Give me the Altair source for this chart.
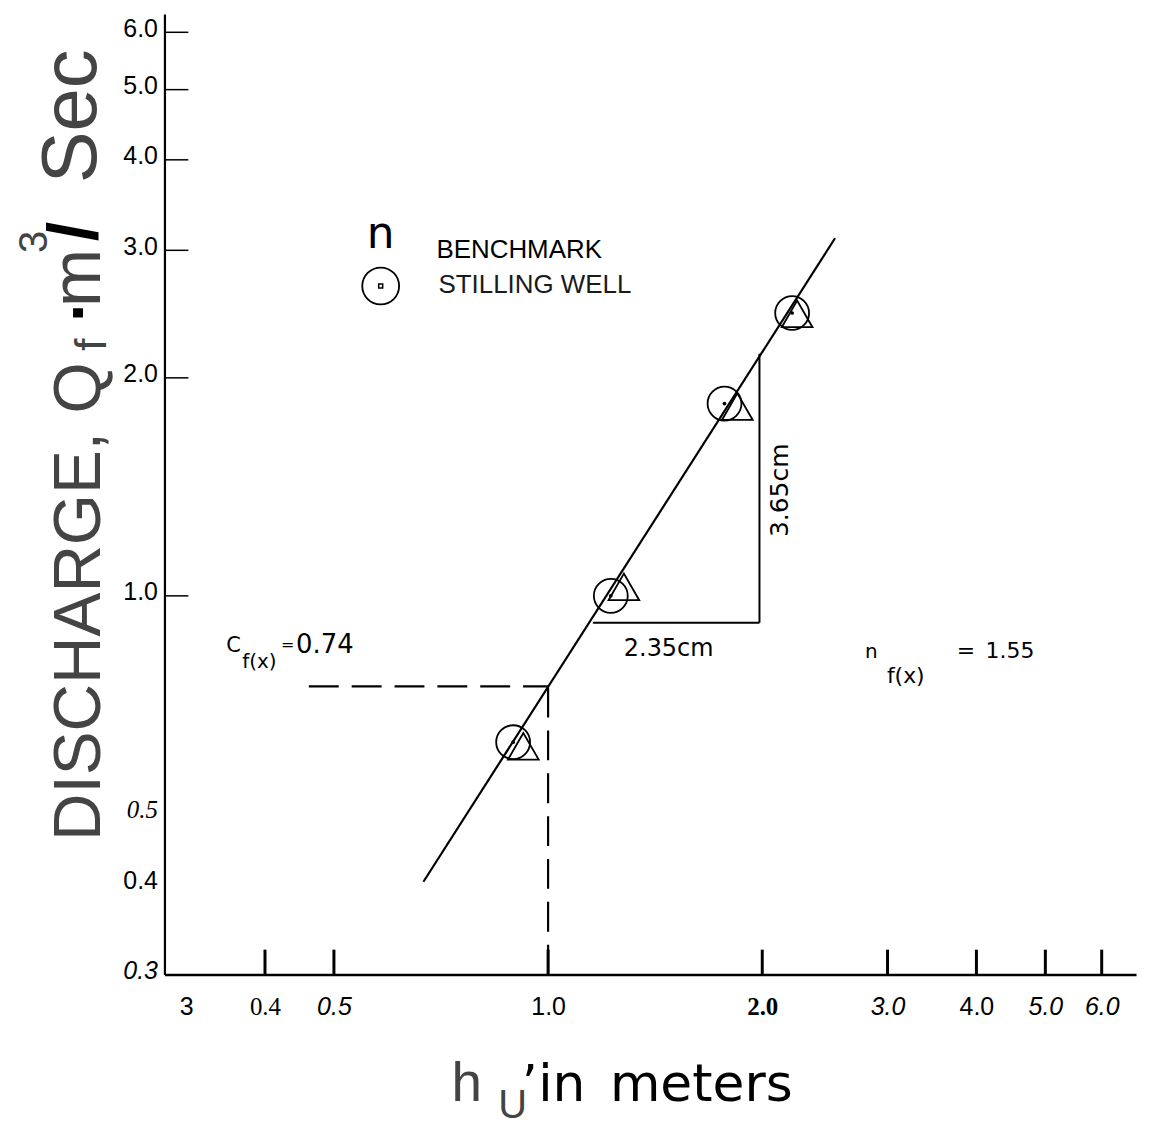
import altair as alt
import pandas as pd

# ---------------- data ----------------
x_tick_values = [0.3, 0.4, 0.5, 1.0, 2.0, 3.0, 4.0, 5.0, 6.0]
x_tick_labels = ["3", "0.4", "0.5", "1.0", "2.0", "3.0", "4.0", "5.0", "6.0"]
x_mark_ticks = [0.4, 0.5, 1.0, 2.0, 3.0, 4.0, 5.0, 6.0]
y_tick_values = [0.3, 0.4, 0.5, 1.0, 2.0, 3.0, 4.0, 5.0, 6.0]
y_tick_labels = ["0.3", "0.4", "0.5", "1.0", "2.0", "3.0", "4.0", "5.0", "6.0"]
y_mark_ticks = [1.0, 2.0, 3.0, 4.0, 5.0, 6.0]

# stilling well (circles with dot)
well_h = [0.893, 1.225, 1.770, 2.203]
well_q = [0.628, 1.000, 1.843, 2.458]
# benchmark (triangles)
bench_h = [0.923, 1.278, 1.845, 2.239]
bench_q = [0.620, 1.029, 1.825, 2.451]

# fitted rating line
fit_h = [0.668, 2.531]
fit_q = [0.403, 3.117]

# dashed construction for C
c_h = [0.461, 1.0]
c_q = [0.75, 0.3]
# slope triangle
tri_h = [1.156, 1.982]
tri_q = [0.918, 2.159]

X_DOMAIN = [0.2889, 6.705]
Y_DOMAIN = [0.3, 6.36]

SANS = "Liberation Sans"
SERIF = "Liberation Serif"
WIDE = "DejaVu Sans"

W, H = 975, 964

xs = alt.Scale(type="log", domain=X_DOMAIN, nice=False)
ys = alt.Scale(type="log", domain=Y_DOMAIN, nice=False)


def label_expr(values, labels):
    parts = []
    for v, l in zip(values, labels):
        parts.append(f"datum.value == {v} ? '{l}' : ")
    return "".join(parts) + "''"


xaxis = alt.Axis(
    values=x_tick_values,
    labelExpr=label_expr(x_tick_values, x_tick_labels),
    title=None, grid=False, ticks=False, tickSize=0,
    domainColor="black", domainWidth=2.5,
    labelFontSize=25, labelColor="black", labelPadding=20,
    labelBaseline="top", labelFlush=False, labelOverlap=False, labelBound=False,
    labelFont={"condition": {"test": "datum.value == 0.4 || datum.value == 2", "value": SERIF}, "value": SANS},
    labelFontStyle={"condition": {"test": "datum.value == 0.5 || datum.value == 3 || datum.value == 5 || datum.value == 6", "value": "italic"}, "value": "normal"},
    labelFontWeight={"condition": {"test": "datum.value == 2", "value": "bold"}, "value": "normal"},
    labelOffset={"condition": {"test": "datum.value == 0.3", "value": 10}, "value": 0},
)
yaxis = alt.Axis(
    values=y_tick_values,
    labelExpr=label_expr(y_tick_values, y_tick_labels),
    title=None, grid=False, ticks=False, tickSize=0,
    domainColor="black", domainWidth=2.2,
    labelFontSize=25, labelColor="black", labelPadding=7,
    labelBaseline="middle", labelFlush=False, labelOverlap=False, labelBound=False,
    labelOffset=-4,
    labelFont={"condition": {"test": "datum.value == 0.5", "value": SERIF}, "value": SANS},
    labelFontStyle={"condition": {"test": "datum.value == 0.5 || datum.value == 0.3", "value": "italic"}, "value": "normal"},
)


def X(f):
    return alt.X(f, type="quantitative", scale=xs, axis=xaxis)


def Y(f):
    return alt.Y(f, type="quantitative", scale=ys, axis=yaxis)


fit_df = pd.DataFrame({"h": fit_h, "q": fit_q})
well_df = pd.DataFrame({"h": well_h, "q": well_q})
bench_df = pd.DataFrame({"h": bench_h, "q": bench_q})
dash_df = pd.DataFrame({
    "h": [c_h[0], c_h[1]], "h2": [c_h[1], c_h[1]],
    "q": [c_q[0], c_q[1]], "q2": [c_q[0], c_q[0]],
})
tri_df = pd.DataFrame({
    "h": [tri_h[0], tri_h[1]], "h2": [tri_h[1], tri_h[1]],
    "q": [tri_q[0], tri_q[0]], "q2": [tri_q[0], tri_q[1]],
})
xt_df = pd.DataFrame({"h": x_mark_ticks})
yt_df = pd.DataFrame({"q": y_mark_ticks})
one = pd.DataFrame({"a": [0]})

fit = alt.Chart(fit_df).mark_line(color="black", strokeWidth=2.2).encode(x=X("h"), y=Y("q"))
dash = alt.Chart(dash_df).mark_rule(color="black", strokeWidth=2.2, strokeDash=[30, 13]).encode(
    x=X("h"), x2="h2", y=Y("q"), y2="q2")
tri = alt.Chart(tri_df).mark_rule(color="black", strokeWidth=2).encode(
    x=X("h"), x2="h2", y=Y("q"), y2="q2")
bench = alt.Chart(bench_df).mark_point(shape="triangle-up", size=950, filled=False,
                                       color="black", strokeWidth=1.8, opacity=1).encode(x=X("h"), y=Y("q"))
well = alt.Chart(well_df).mark_point(shape="circle", size=1156, filled=False,
                                     color="black", strokeWidth=1.8, opacity=1).encode(x=X("h"), y=Y("q"))
dots = alt.Chart(well_df).mark_point(shape="circle", size=14, filled=True,
                                     color="black", opacity=1).encode(x=X("h"), y=Y("q"))
xticks = alt.Chart(xt_df).mark_rule(color="black", strokeWidth=3).encode(
    x=X("h"), y=alt.value(H - 25), y2=alt.value(H))
yticks = alt.Chart(yt_df).mark_rule(color="black", strokeWidth=1.5).encode(
    y=Y("q"), x=alt.value(0), x2=alt.value(24))


def txt(text, x, y, size, font=SANS, angle=0, align="left", baseline="alphabetic",
        color="black", weight="normal", style="normal"):
    return alt.Chart(one).mark_text(
        text=text, fontSize=size, font=font, angle=angle, align=align,
        baseline=baseline, color=color, fontWeight=weight, fontStyle=style,
    ).encode(x=alt.value(x), y=alt.value(y))


legend_circle = alt.Chart(one).mark_point(shape="circle", size=1369, filled=False, color="black",
                                          strokeWidth=1.8, opacity=1).encode(x=alt.value(217), y=alt.value(273))
legend_dot = alt.Chart(one).mark_point(shape="square", size=16, filled=False, color="black",
                                       strokeWidth=1.5, opacity=1).encode(x=alt.value(217), y=alt.value(273))

TITLE_C = "#444444"
texts = [
    # legend
    txt("n", 203, 235, 44, font=WIDE),
    txt("BENCHMARK", 273, 245, 26),
    txt("STILLING WELL", 275, 280, 26, color="#1a1a1a"),
    # slope annotations
    txt("3.65cm", 618, 478, 25, font=WIDE, angle=270, align="center", baseline="middle"),
    txt("2.35cm", 506, 637, 24, font=WIDE, align="center", baseline="middle"),
    # C annotation
    txt("C", 62, 640, 21, font=WIDE),
    txt("f(x)", 78, 656, 20, font=WIDE),
    txt("=", 117, 638, 16, font=WIDE),
    txt("0.74", 132, 641, 26, font=WIDE),
    # n annotation
    txt("n", 703, 646, 20, font=WIDE),
    txt("f(x)", 725, 671, 22, font=WIDE),
    txt("=", 795, 646, 22, font=WIDE),
    txt("1.55", 824, 646, 22, font=WIDE),
    # y title (rotated)
    txt("DISCHARGE, Q", -65, 830, 66, angle=270, color=TITLE_C),
    txt("f", -59, 338, 44, angle=270, color=TITLE_C),
    txt("\u00b7", -65, 309, 66, angle=270, weight="bold"),
    txt("m", -65, 294, 70, angle=270, color=TITLE_C),
    txt("3", -118, 240, 40, angle=270, color=TITLE_C),
    txt("/", -68, 228, 70, angle=270, weight="bold"),
    txt("Sec", -69, 170, 78, angle=270, color=TITLE_C),
    # x title
    txt("h", 288, 1091, 55, color=TITLE_C),
    txt("U", 335, 1108, 40, color=TITLE_C),
    txt(",", 359, 1060, 50, font=WIDE),
    txt("in", 375, 1091, 52, font=WIDE),
    txt("meters", 447, 1091, 52, font=WIDE),
]

chart = alt.layer(
    dash, tri, fit, xticks, yticks, bench, well, dots, legend_circle, legend_dot, *texts
).properties(
    width=W, height=H,
    autosize=alt.AutoSizeParams(type="none"),
    padding={"left": 157, "top": 4, "right": 5, "bottom": 156},
    background="white",
).configure_view(stroke=None)

chart.save("out.html", embed_options={"renderer": "svg", "actions": False})
